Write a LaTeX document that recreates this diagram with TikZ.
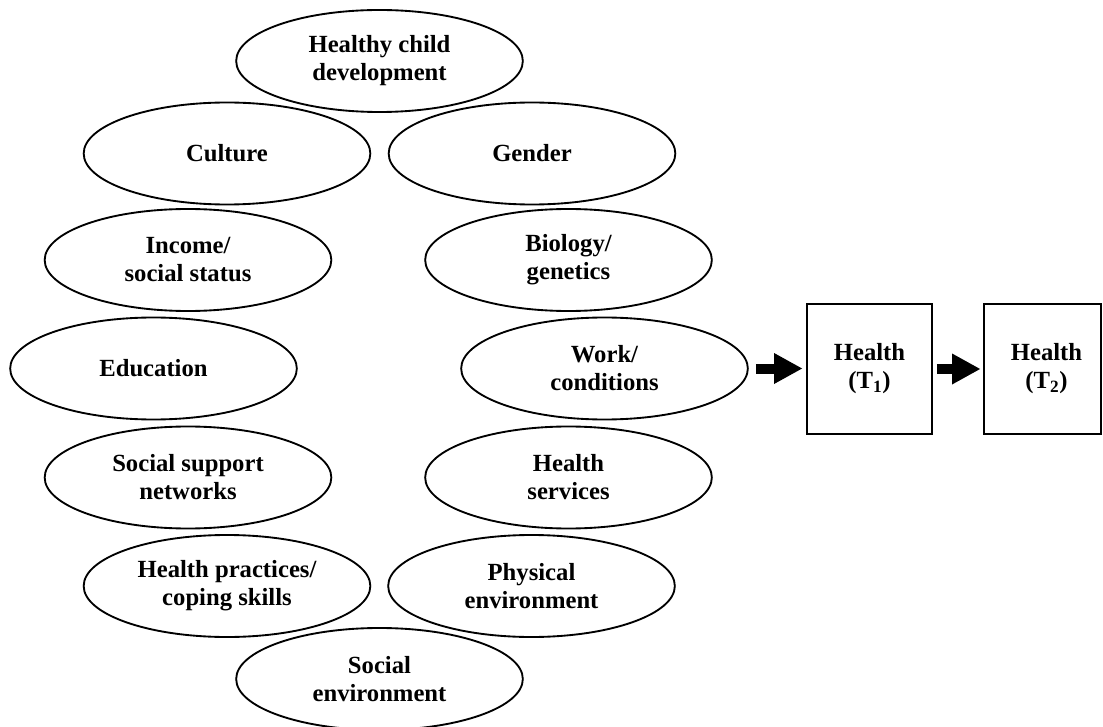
\documentclass[tikz,border=0pt]{standalone}
\usepackage{fontspec}
\setmainfont{Liberation Serif}
\usetikzlibrary{shapes.geometric,arrows.meta}
\tikzset{
  x=0.75pt, y=-0.75pt,
  factor/.style={ellipse, draw, line width=1.4pt, inner sep=0pt,
    minimum width=215pt, minimum height=76.5pt, align=center,
    font=\fontsize{18.5pt}{21pt}\selectfont\bfseries},
  healthbox/.style={rectangle, draw, line width=1.4pt, inner sep=0pt,
    minimum height=97.5pt, align=center,
    font=\fontsize{18.5pt}{21pt}\selectfont\bfseries},
  fatarrow/.style={line width=7.5pt,
    -{Triangle[length=21pt, width=23.25pt, line width=0pt]}}
}
\begin{document}
\begin{tikzpicture}
\useasboundingbox (0,0) rectangle (1103,727);
\node[factor] (hcd) at (379.5,61) {Healthy child\\development};
\node[factor] (cult) at (227,153.5) {Culture};
\node[factor] (gend) at (532,153.5) {Gender};
\node[factor] (inc) at (188,260) {Income/\\social status};
\node[factor] (bio) at (568.5,260) {Biology/\\genetics};
\node[factor] (edu) at (153.5,368.5) {Education};
\node[factor] (work) at (604.5,368.5) {Work/\\conditions};
\node[factor] (ssn) at (188,477.5) {Social support\\networks};
\node[factor] (hserv) at (568.5,477.5) {Health\\services};
\node[factor] (hprac) at (227,586) {Health practices/\\coping skills};
\node[factor] (phys) at (531.5,586) {Physical\\environment};
\node[factor] (senv) at (379.5,679) {Social\\environment};
\node[healthbox, minimum width=93.75pt] (t1) at (869.5,369) {Health\\(T\textsubscript{1})};
\node[healthbox, minimum width=87.75pt] (t2) at (1042.5,369) {\hspace*{6pt}Health\\\hspace*{6pt}(T\textsubscript{2})};
\draw[fatarrow, shorten <=5.25pt, shorten >=3pt] (work.east) -- (work.east -| t1.west);
\draw[fatarrow, shorten <=3pt, shorten >=2.25pt] (t1.east) -- (t2.west);
\end{tikzpicture}
\end{document}
